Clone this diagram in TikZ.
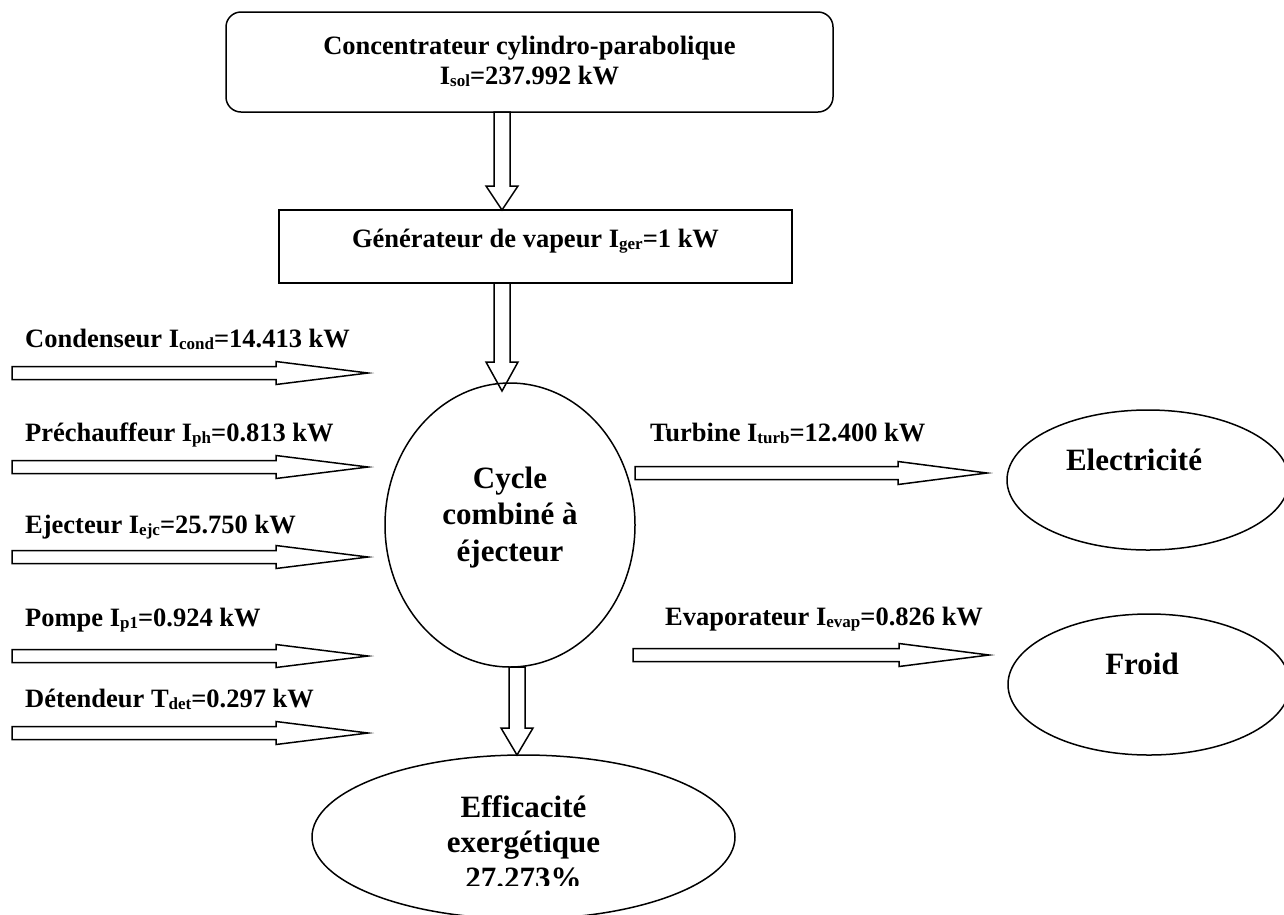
\documentclass[tikz,border=0pt]{standalone}
\usepackage{fontspec}
\setmainfont{Liberation Serif}
\usetikzlibrary{calc,shapes.geometric}
\newcommand\sbs[1]{\raisebox{-2pt}{\fontsize{17}{17}\selectfont #1}}
\tikzset{
  lbl/.style={font=\fontsize{26.5}{30}\selectfont\bfseries, inner sep=0pt, anchor=base west},
  boxtxt/.style={font=\fontsize{26.5}{30}\selectfont\bfseries, inner sep=0pt, align=center},
  big/.style={font=\fontsize{31}{36.5}\selectfont\bfseries, inner sep=0pt, align=center},
  shp/.style={draw, line width=1.5pt, inner sep=0pt},
  blk/.style={draw, line width=1.5pt, line join=miter},
}
\newcommand\harrow[3]{%
  \draw[blk] let \p1=(#1), \p2=(#2) in
    (\x1,\y1-6.5pt) -- (\x2-#3,\y1-6.5pt) -- (\x2-#3,\y1-11.5pt) -- (\x2,\y1)
    -- (\x2-#3,\y1+11.5pt) -- (\x2-#3,\y1+6.5pt) -- (\x1,\y1+6.5pt) -- cycle;}
\newcommand\varrow[3]{%
  \draw[blk] let \p1=(#1), \p2=(#2) in
    (\x1-8pt,\y1) -- (\x1-8pt,\y2+#3) -- (\x1-16pt,\y2+#3) -- (\x1,\y2)
    -- (\x1+16pt,\y2+#3) -- (\x1+8pt,\y2+#3) -- (\x1+8pt,\y1) -- cycle;}
\begin{document}
\begin{tikzpicture}[x=1pt,y=-1pt]
\useasboundingbox (0,0) rectangle (1284,914);
% shapes
\node[shp, rounded corners=15pt, minimum width=607pt, minimum height=100pt] (top) at (529.5,62) {};
\node[boxtxt] (toptxt) at (529.5,61) {Concentrateur cylindro-parabolique\\I\sbs{sol}=237.992 kW};
\node[shp, minimum width=513pt, minimum height=73pt] (gen) at (535.5,246.5) {};
\node[boxtxt, anchor=base] (gentxt) at (535.5,247) {Générateur de vapeur I\sbs{ger}=1 kW};
\node[shp, ellipse, minimum width=250pt, minimum height=284pt] (cyc) at (510,525) {};
\node[big] (cyctxt) at (510,517.5) {Cycle\\combiné à\\éjecteur};
\node[shp, ellipse, minimum width=282pt, minimum height=140pt] (elec) at (1148,480) {};
\node[big, anchor=base] (electxt) at (1134,470) {Electricité};
\node[shp, ellipse, minimum width=282pt, minimum height=141pt] (froid) at (1149,684.5) {};
\node[big, anchor=base] (froidtxt) at (1142,674) {Froid};
\node[shp, ellipse, minimum width=423pt, minimum height=164pt] (eff) at (523.5,837) {};
\begin{scope}
  \clip (300,760) rectangle (750,885);
  \node[big, font=\fontsize{31}{35.5}\selectfont\bfseries] (efftxt) at (523.5,842) {Efficacité\\exergétique\\27.273\%};
\end{scope}
% labels
\node[lbl] (l1) at (25,347) {Condenseur I\sbs{cond}=14.413 kW};
\node[lbl] (l2) at (25,441) {Préchauffeur I\sbs{ph}=0.813 kW};
\node[lbl] (l3) at (25,533) {Ejecteur I\sbs{ejc}=25.750 kW};
\node[lbl] (l4) at (25,626) {Pompe I\sbs{p1}=0.924 kW};
\node[lbl] (l5) at (25,707) {Détendeur T\sbs{det}=0.297 kW};
\node[lbl] (l6) at (650,441) {Turbine I\sbs{turb}=12.400 kW};
\node[lbl] (l7) at (665,625) {Evaporateur I\sbs{evap}=0.826 kW};
% arrow end points
\coordinate (v1s) at (502,112);  \coordinate (v1e) at (502,210);
\coordinate (v2s) at (502,283);  \coordinate (v2e) at (502,391);
\coordinate (v3s) at (517,667);  \coordinate (v3e) at (517,755);
\coordinate (h1s) at (12,373);   \coordinate (h1e) at (368,373);
\coordinate (h2s) at (12,467);   \coordinate (h2e) at (368,467);
\coordinate (h3s) at (12,557);   \coordinate (h3e) at (368,557);
\coordinate (h4s) at (12,656);   \coordinate (h4e) at (368,656);
\coordinate (h5s) at (12,733);   \coordinate (h5e) at (368,733);
\coordinate (h6s) at (635,473);  \coordinate (h6e) at (987,473);
\coordinate (h7s) at (633,655);  \coordinate (h7e) at (989,655);
% arrows
\varrow{v1s}{v1e}{24pt}
\varrow{v2s}{v2e}{29pt}
\varrow{v3s}{v3e}{27pt}
\harrow{h1s}{h1e}{92pt}
\harrow{h2s}{h2e}{92pt}
\harrow{h3s}{h3e}{92pt}
\harrow{h4s}{h4e}{92pt}
\harrow{h5s}{h5e}{92pt}
\harrow{h6s}{h6e}{89pt}
\harrow{h7s}{h7e}{90pt}
\end{tikzpicture}
\end{document}
